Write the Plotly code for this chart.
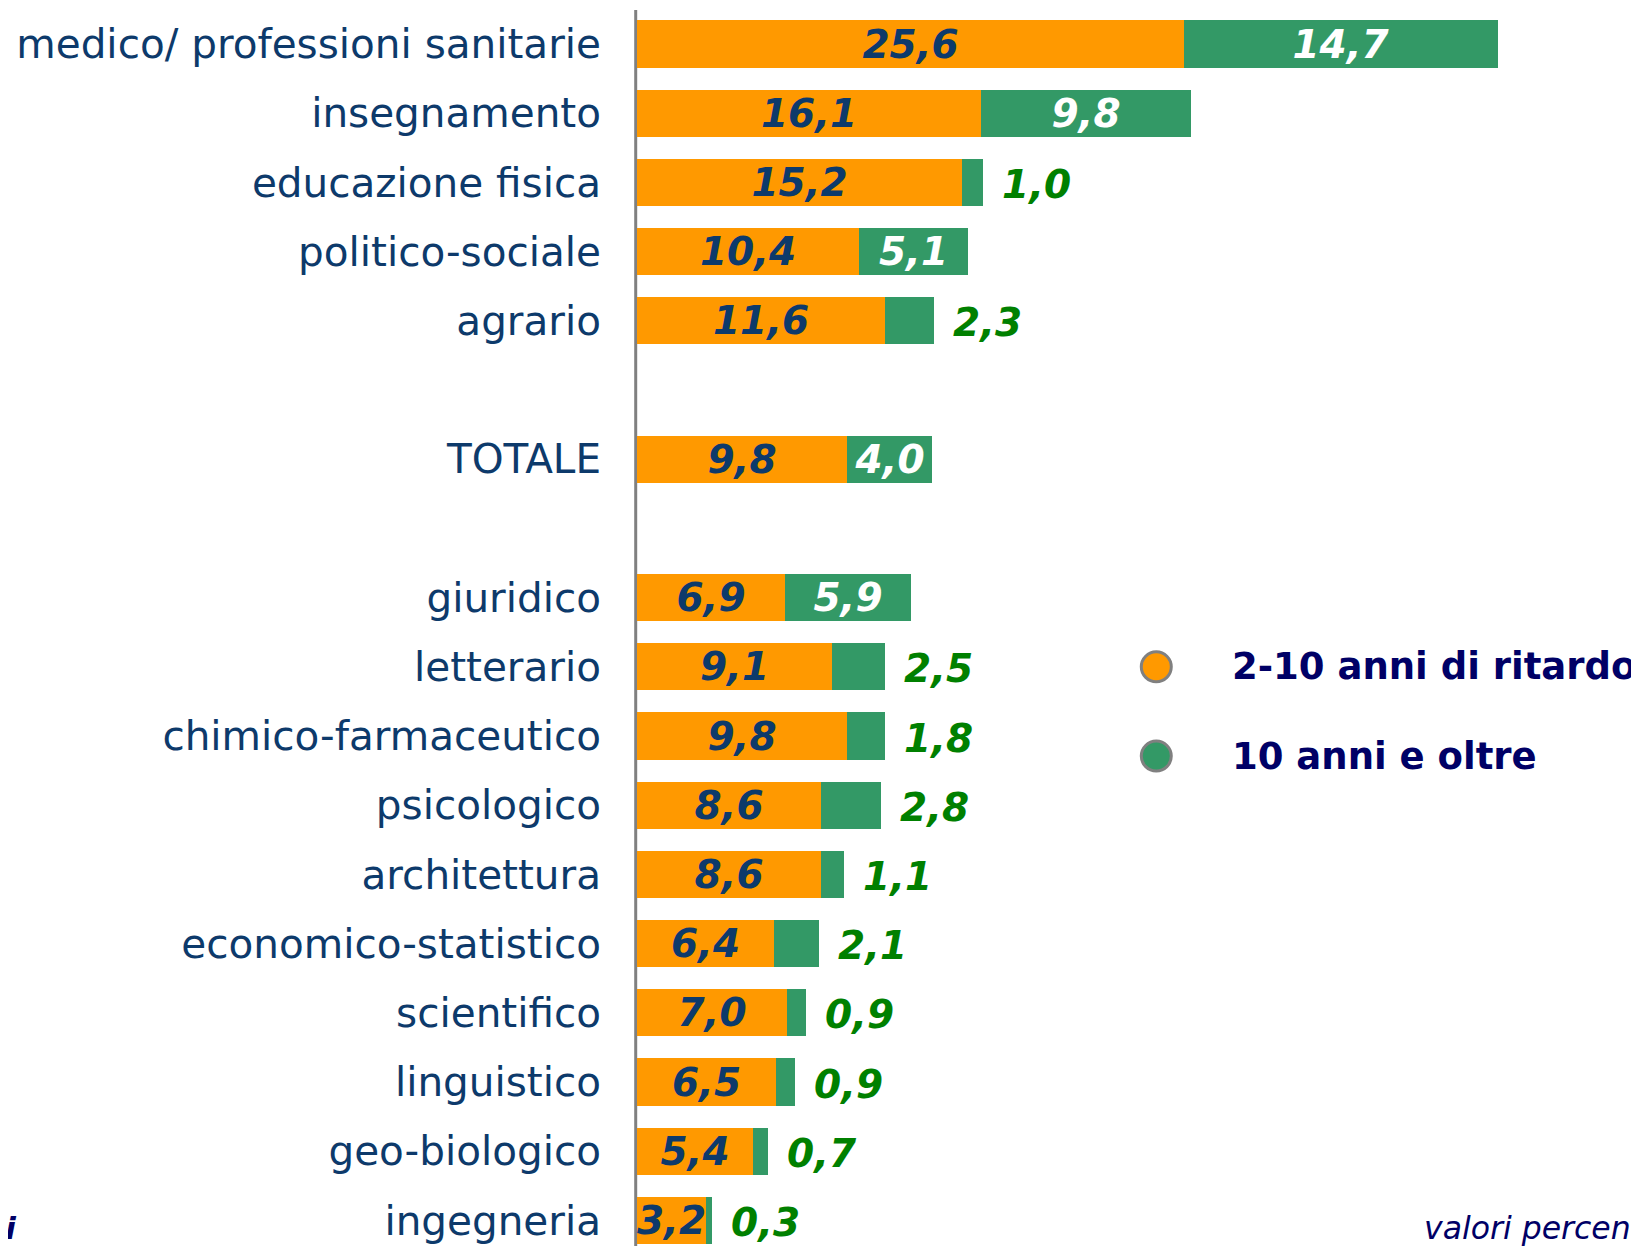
import plotly.graph_objects as go

# rows from top to bottom; None = empty spacer row
categories = [
    "medico/ professioni sanitarie", "insegnamento", "educazione fisica",
    "politico-sociale", "agrario", None, "TOTALE", None,
    "giuridico", "letterario", "chimico-farmaceutico", "psicologico",
    "architettura", "economico-statistico", "scientifico", "linguistico",
    "geo-biologico", "ingegneria",
]
ritardo_2_10 = [25.6, 16.1, 15.2, 10.4, 11.6, None, 9.8, None,
                6.9, 9.1, 9.8, 8.6, 8.6, 6.4, 7.0, 6.5, 5.4, 3.2]
oltre_10 = [14.7, 9.8, 1.0, 5.1, 2.3, None, 4.0, None,
            5.9, 2.5, 1.8, 2.8, 1.1, 2.1, 0.9, 0.9, 0.7, 0.3]
# green label inside the bar (white) or after it (green)
green_inside = [True, True, False, True, False, None, True, None,
                True, False, False, False, False, False, False, False, False, False]

series_names = ["2-10 anni di ritardo", "10 anni e oltre"]

ORANGE = "#FF9900"
GREEN = "#339966"
NAVY = "#0D3A6B"
DARK = "#000066"
FONT = "DejaVu Sans"

W, H = 1639, 1246
OFF = 8             # page body margin
PX = 21.37          # pixels per percentage point
PY = 69.2           # pixels per row
X0 = -0.15
L = 634 - OFF


def fmt(v):
    return f"{v:.1f}".replace(".", ",")


rows = [i for i, c in enumerate(categories) if c is not None]
ys = rows
a = [ritardo_2_10[i] for i in rows]
b = [oltre_10[i] for i in rows]
ins = [green_inside[i] for i in rows]

fig = go.Figure()
fig.add_bar(
    y=ys, x=a, base=0, orientation="h", width=0.68,
    marker=dict(color=ORANGE, line=dict(width=0)),
    text=[fmt(v) for v in a], textposition="inside", insidetextanchor="middle",
    constraintext="none",
    textfont=dict(family=FONT, size=39, color=NAVY, weight="bold", style="italic"),
    name=series_names[0], showlegend=False, hoverinfo="skip",
)
fig.add_bar(
    y=ys, x=b, base=a, orientation="h", width=0.68,
    marker=dict(color=GREEN, line=dict(width=0)),
    text=[fmt(v) if f else "" for v, f in zip(b, ins)],
    textposition="inside", insidetextanchor="middle", constraintext="none",
    textfont=dict(family=FONT, size=39, color="white", weight="bold", style="italic"),
    name=series_names[1], showlegend=False, hoverinfo="skip",
)

annotations = []
for y, va, vb, f in zip(ys, a, b, ins):
    if not f:
        annotations.append(dict(
            x=va + vb, y=y, xref="x", yref="y", text=fmt(vb), showarrow=False,
            xanchor="left", yanchor="middle", xshift=17, yshift=-2,
            font=dict(family=FONT, size=39, color="#008000", weight="bold", style="italic"),
        ))

# legend drawn by hand
leg_x_marker = 24.29
leg_x_text = 27.75
leg_y = [9.0, 10.29]
shapes = [dict(type="line", xref="x", yref="y", x0=-0.07, x1=-0.07, y0=-0.49, y1=17.6,
               line=dict(color="#808080", width=3), layer="below")]
for yy, col, name in zip(leg_y, [ORANGE, GREEN], series_names):
    shapes.append(dict(type="circle", xref="x", yref="y", xsizemode="pixel", ysizemode="pixel",
                       xanchor=leg_x_marker, yanchor=yy, x0=-15, x1=15, y0=-15, y1=15,
                       fillcolor=col, line=dict(color="#808080", width=3)))
    annotations.append(dict(x=leg_x_text, y=yy, xref="x", yref="y", text=name, showarrow=False,
                            xanchor="left", yanchor="middle",
                            font=dict(family=FONT, size=37, color=DARK, weight="bold")))

foot_y = (H - (1228 - OFF)) / H
annotations.append(dict(x=(1422 - OFF - L) / (W - L), y=foot_y, xref="paper", yref="paper",
                        text="valori percentuali", showarrow=False, xanchor="left", yanchor="middle",
                        font=dict(family=FONT, size=31.5, color=DARK, style="italic")))
annotations.append(dict(x=(18 - OFF - L) / (W - L), y=foot_y, xref="paper", yref="paper",
                        text="Fonte: AlmaLaurea, Profilo dei laureati", showarrow=False,
                        xanchor="right", yanchor="middle",
                        font=dict(family=FONT, size=31, color=DARK, style="italic", weight="bold")))

y_top = -(44 - OFF) / PY
y_bot = y_top + H / PY

fig.update_layout(
    width=W, height=H,
    margin=dict(l=L, r=0, t=0, b=0),
    paper_bgcolor="white", plot_bgcolor="white",
    barmode="overlay", bargap=0,
    xaxis=dict(range=[X0, X0 + (W - L) / PX], visible=False, fixedrange=True),
    yaxis=dict(range=[y_bot, y_top], tickvals=rows, ticktext=[categories[i] for i in rows],
               showgrid=False, zeroline=False, showline=False, ticks="",
               ticklabelstandoff=32,
               tickfont=dict(family=FONT, size=40.5, color=NAVY)),
    shapes=shapes, annotations=annotations,
    showlegend=False,
)

fig.write_html("out.html")
